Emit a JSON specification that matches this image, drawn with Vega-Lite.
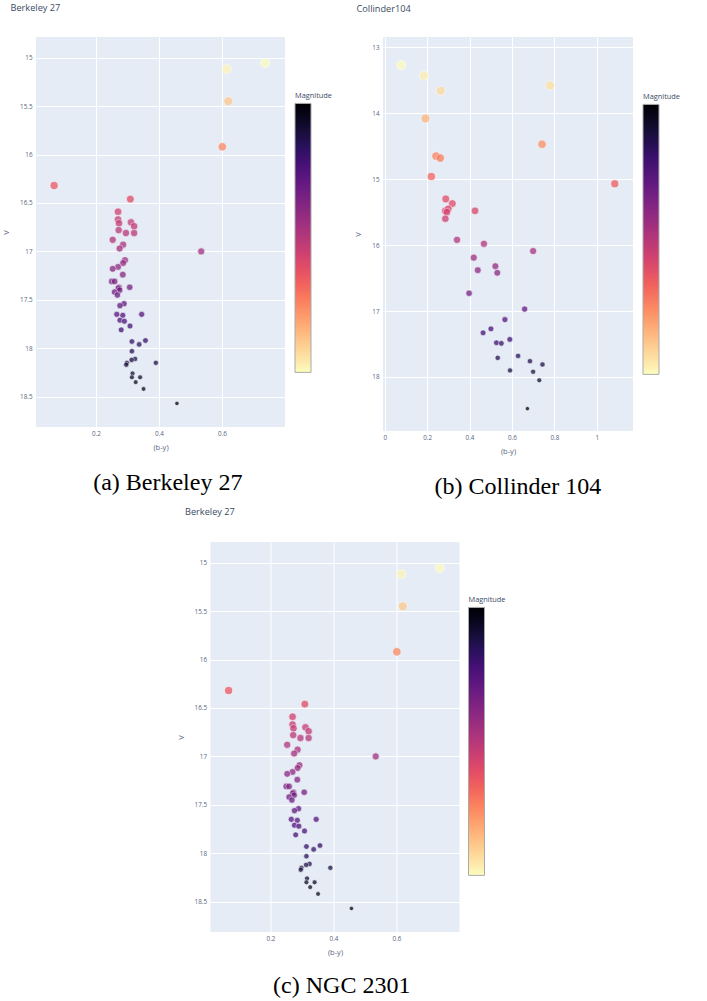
{
  "$schema": "https://vega.github.io/schema/vega-lite/v6.json",
  "padding": {"left": 2, "top": 3, "right": 5, "bottom": 2},
  "background": "white",
  "datasets": {
    "berkeley": [
      {"by": 0.737, "V": 15.055}, {"by": 0.615, "V": 15.117}, {"by": 0.620, "V": 15.45}, {"by": 0.601, "V": 15.92},
      {"by": 0.067, "V": 16.32}, {"by": 0.309, "V": 16.46}, {"by": 0.270, "V": 16.59}, {"by": 0.270, "V": 16.67},
      {"by": 0.273, "V": 16.71}, {"by": 0.311, "V": 16.70}, {"by": 0.321, "V": 16.74}, {"by": 0.272, "V": 16.78},
      {"by": 0.295, "V": 16.81}, {"by": 0.321, "V": 16.81}, {"by": 0.253, "V": 16.88}, {"by": 0.286, "V": 16.93},
      {"by": 0.275, "V": 16.97}, {"by": 0.534, "V": 17.00}, {"by": 0.292, "V": 17.09}, {"by": 0.286, "V": 17.12},
      {"by": 0.270, "V": 17.16}, {"by": 0.253, "V": 17.18}, {"by": 0.285, "V": 17.24}, {"by": 0.250, "V": 17.31},
      {"by": 0.259, "V": 17.31}, {"by": 0.273, "V": 17.37}, {"by": 0.271, "V": 17.38}, {"by": 0.307, "V": 17.37},
      {"by": 0.275, "V": 17.40}, {"by": 0.259, "V": 17.42}, {"by": 0.268, "V": 17.45}, {"by": 0.289, "V": 17.54},
      {"by": 0.276, "V": 17.56}, {"by": 0.266, "V": 17.65}, {"by": 0.285, "V": 17.66}, {"by": 0.345, "V": 17.65},
      {"by": 0.276, "V": 17.71}, {"by": 0.290, "V": 17.72}, {"by": 0.308, "V": 17.77}, {"by": 0.280, "V": 17.81},
      {"by": 0.314, "V": 17.93}, {"by": 0.357, "V": 17.92}, {"by": 0.337, "V": 17.96}, {"by": 0.314, "V": 18.03},
      {"by": 0.324, "V": 18.11}, {"by": 0.313, "V": 18.12}, {"by": 0.298, "V": 18.15}, {"by": 0.296, "V": 18.17},
      {"by": 0.390, "V": 18.15}, {"by": 0.316, "V": 18.26}, {"by": 0.314, "V": 18.30}, {"by": 0.340, "V": 18.30},
      {"by": 0.326, "V": 18.35}, {"by": 0.351, "V": 18.42}, {"by": 0.457, "V": 18.57}
    ],
    "collinder": [
      {"by": 0.078, "V": 13.27}, {"by": 0.185, "V": 13.43}, {"by": 0.264, "V": 13.66}, {"by": 0.780, "V": 13.58},
      {"by": 0.192, "V": 14.08}, {"by": 0.742, "V": 14.47}, {"by": 0.242, "V": 14.65}, {"by": 0.262, "V": 14.68},
      {"by": 0.220, "V": 14.96}, {"by": 1.085, "V": 15.07}, {"by": 0.288, "V": 15.30}, {"by": 0.319, "V": 15.37},
      {"by": 0.286, "V": 15.48}, {"by": 0.300, "V": 15.45}, {"by": 0.293, "V": 15.50}, {"by": 0.426, "V": 15.48},
      {"by": 0.286, "V": 15.60}, {"by": 0.341, "V": 15.92}, {"by": 0.468, "V": 15.98}, {"by": 0.700, "V": 16.09},
      {"by": 0.420, "V": 16.19}, {"by": 0.439, "V": 16.38}, {"by": 0.522, "V": 16.32}, {"by": 0.531, "V": 16.42},
      {"by": 0.398, "V": 16.73}, {"by": 0.660, "V": 16.97}, {"by": 0.567, "V": 17.13}, {"by": 0.501, "V": 17.27},
      {"by": 0.464, "V": 17.33}, {"by": 0.590, "V": 17.43}, {"by": 0.527, "V": 17.48}, {"by": 0.550, "V": 17.49},
      {"by": 0.629, "V": 17.68}, {"by": 0.533, "V": 17.71}, {"by": 0.685, "V": 17.76}, {"by": 0.744, "V": 17.81},
      {"by": 0.591, "V": 17.90}, {"by": 0.700, "V": 17.92}, {"by": 0.729, "V": 18.05}, {"by": 0.673, "V": 18.48}
    ]
  },
  "center": true,
  "spacing": 8,
  "resolve": {"scale": {"color": "independent", "size": "independent"}, "legend": {"color": "independent", "size": "independent"}},
  "vconcat": [
    {
      "bounds": "flush",
      "spacing": 98,
      "resolve": {"scale": {"color": "independent", "size": "independent"}, "legend": {"color": "independent", "size": "independent"}},
      "hconcat": [
        {
          "width": 249, "height": 390,
          "data": {"name": "berkeley"},
          "title": {"text": "(a) Berkeley 27", "orient": "bottom", "anchor": "middle", "frame": "bounds", "font": "Liberation Serif", "fontSize": 24, "fontWeight": "normal", "color": "black", "offset": 20},
          "layer": [
            {
              "mark": {"type": "circle", "opacity": 0.75, "stroke": "white", "strokeWidth": 0.6},
              "encoding": {
                "x": {"field": "by", "type": "quantitative", "scale": {"domain": [0.0095, 0.8], "nice": false, "zero": false}, "axis": {"values": [0.2, 0.4, 0.6], "format": "~g", "title": "(b-y)", "labelPadding": 3, "titlePadding": 7}},
                "y": {"field": "V", "type": "quantitative", "scale": {"domain": [14.786, 18.813], "reverse": true, "nice": false, "zero": false}, "axis": {"values": [15, 15.5, 16, 16.5, 17, 17.5, 18, 18.5], "format": "~g", "title": "V", "labelPadding": 4, "titlePadding": 9}},
                "color": {"field": "V", "type": "quantitative", "scale": {"scheme": {"name": "magma", "extent": [1, 0]}, "zero": false, "nice": false}, "legend": {"type": "gradient", "orient": "none", "direction": "vertical", "legendX": 259, "legendY": 55, "title": "Magnitude", "gradientLength": 269, "gradientThickness": 16, "gradientOpacity": 1, "labelExpr": "''"}},
                "size": {"field": "V", "type": "quantitative", "scale": {"domain": [15.05, 18.6], "range": [90, 18], "zero": false, "nice": false}, "legend": null}
              }
            },
            {
              "mark": {"type": "circle", "opacity": 0},
              "encoding": {
                "x": {"field": "by", "type": "quantitative", "scale": {"domain": [0.0095, 0.8], "nice": false, "zero": false}, "axis": {"orient": "top", "labels": false, "ticks": false, "domain": false, "grid": false, "title": "Berkeley 27", "titleX": -26, "titleY": -27, "titleAlign": "left", "titleBaseline": "alphabetic", "titleAngle": 0, "titleFontSize": 9.2, "titleColor": "#3b4a63"}},
                "y": {"field": "V", "type": "quantitative"}
              }
            }
          ],
          "resolve": {"axis": {"x": "independent"}}
        },
        {
          "width": 250, "height": 394,
          "data": {"name": "collinder"},
          "title": {"text": "(b) Collinder 104", "orient": "bottom", "anchor": "middle", "frame": "bounds", "font": "Liberation Serif", "fontSize": 24, "fontWeight": "normal", "color": "black", "offset": 20},
          "layer": [
            {
              "mark": {"type": "circle", "opacity": 0.75, "stroke": "white", "strokeWidth": 0.6},
              "encoding": {
                "x": {"field": "by", "type": "quantitative", "scale": {"domain": [-0.008, 1.171], "nice": false, "zero": false}, "axis": {"values": [0, 0.2, 0.4, 0.6, 0.8, 1], "format": "~g", "title": "(b-y)", "labelPadding": 3, "titlePadding": 7}},
                "y": {"field": "V", "type": "quantitative", "scale": {"domain": [12.844, 18.819], "reverse": true, "nice": false, "zero": false}, "axis": {"values": [13, 14, 15, 16, 17, 18], "format": "~g", "title": "V", "labelPadding": 4, "titlePadding": 9}},
                "color": {"field": "V", "type": "quantitative", "scale": {"scheme": {"name": "magma", "extent": [1, 0]}, "zero": false, "nice": false}, "legend": {"type": "gradient", "orient": "none", "direction": "vertical", "legendX": 260, "legendY": 56, "title": "Magnitude", "gradientLength": 270, "gradientThickness": 16, "gradientOpacity": 1, "labelExpr": "''"}},
                "size": {"field": "V", "type": "quantitative", "scale": {"domain": [13.25, 18.5], "range": [90, 18], "zero": false, "nice": false}, "legend": null}
              }
            },
            {
              "mark": {"type": "circle", "opacity": 0},
              "encoding": {
                "x": {"field": "by", "type": "quantitative", "scale": {"domain": [-0.008, 1.171], "nice": false, "zero": false}, "axis": {"orient": "top", "labels": false, "ticks": false, "domain": false, "grid": false, "title": "Collinder104", "titleX": -27, "titleY": -26, "titleAlign": "left", "titleBaseline": "alphabetic", "titleAngle": 0, "titleFontSize": 9.2, "titleColor": "#3b4a63"}},
                "y": {"field": "V", "type": "quantitative"}
              }
            }
          ],
          "resolve": {"axis": {"x": "independent"}}
        }
      ]
    },
    {
      "width": 249, "height": 390,
      "data": {"name": "berkeley"},
      "title": {"text": "(c) NGC 2301", "orient": "bottom", "anchor": "middle", "frame": "bounds", "font": "Liberation Serif", "fontSize": 24, "fontWeight": "normal", "color": "black", "offset": 18},
      "layer": [
        {
          "mark": {"type": "circle", "opacity": 0.75, "stroke": "white", "strokeWidth": 0.6},
          "encoding": {
            "x": {"field": "by", "type": "quantitative", "scale": {"domain": [0.0095, 0.8], "nice": false, "zero": false}, "axis": {"values": [0.2, 0.4, 0.6], "format": "~g", "title": "(b-y)", "labelPadding": 3, "titlePadding": 7}},
            "y": {"field": "V", "type": "quantitative", "scale": {"domain": [14.786, 18.813], "reverse": true, "nice": false, "zero": false}, "axis": {"values": [15, 15.5, 16, 16.5, 17, 17.5, 18, 18.5], "format": "~g", "title": "V", "labelPadding": 4, "titlePadding": 9}},
            "color": {"field": "V", "type": "quantitative", "scale": {"scheme": {"name": "magma", "extent": [1, 0]}, "zero": false, "nice": false}, "legend": {"type": "gradient", "orient": "none", "direction": "vertical", "legendX": 258, "legendY": 54, "title": "Magnitude", "gradientLength": 268, "gradientThickness": 16, "gradientOpacity": 1, "labelExpr": "''"}},
            "size": {"field": "V", "type": "quantitative", "scale": {"domain": [15.05, 18.6], "range": [90, 18], "zero": false, "nice": false}, "legend": null}
          }
        },
        {
          "mark": {"type": "circle", "opacity": 0},
          "encoding": {
            "x": {"field": "by", "type": "quantitative", "scale": {"domain": [0.0095, 0.8], "nice": false, "zero": false}, "axis": {"orient": "top", "labels": false, "ticks": false, "domain": false, "grid": false, "title": "Berkeley 27", "titleX": -26, "titleY": -28, "titleAlign": "left", "titleBaseline": "alphabetic", "titleAngle": 0, "titleFontSize": 9.2, "titleColor": "#3b4a63"}},
            "y": {"field": "V", "type": "quantitative"}
          }
        }
      ],
      "resolve": {"axis": {"x": "independent"}}
    }
  ],
  "config": {
    "font": "Open Sans",
    "view": {"stroke": null, "fill": "#E5ECF6"},
    "axis": {"domain": false, "ticks": false, "grid": true, "gridColor": "white", "gridWidth": 1, "labelFont": "Open Sans", "labelFontSize": 6.3, "labelColor": "#56657d", "titleFont": "Open Sans", "titleFontSize": 7.5, "titleFontWeight": "normal", "titleColor": "#56657d"},
    "legend": {"titleFont": "Open Sans", "titleFontSize": 7.4, "titleFontWeight": "normal", "titleColor": "#3b4a63", "titlePadding": 4, "gradientStrokeColor": "#aaaaaa", "gradientStrokeWidth": 1}
  }
}
